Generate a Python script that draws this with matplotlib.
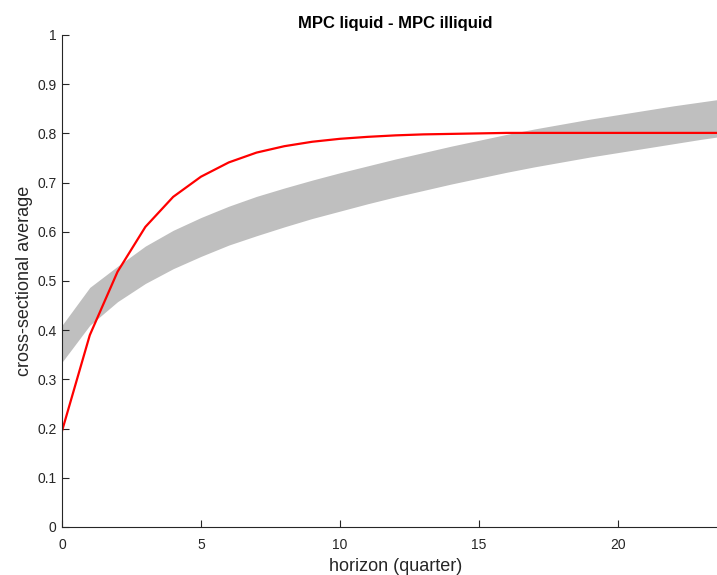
import numpy as np
import matplotlib
matplotlib.use('Agg')
import matplotlib.pyplot as plt

plt.rcParams['font.family'] = ['Liberation Sans', 'DejaVu Sans']

# horizon in quarters
horizon = [0, 1, 2, 3, 4, 5, 6, 7, 8, 9, 10, 11, 12, 13, 14, 15, 16, 17, 18, 19, 20, 21, 22, 23, 24]

# red line: MPC liquid - MPC illiquid
mpc_diff = [0.195, 0.39, 0.519, 0.610, 0.671, 0.712, 0.741, 0.761, 0.774, 0.783, 0.789,
            0.793, 0.796, 0.798, 0.799, 0.800, 0.801, 0.801, 0.801, 0.801, 0.801, 0.801,
            0.801, 0.801, 0.801]

# grey band (upper / lower bound)
band_upper = [0.410, 0.487, 0.530, 0.571, 0.603, 0.629, 0.652, 0.672, 0.689, 0.705, 0.720,
              0.734, 0.748, 0.761, 0.774, 0.786, 0.798, 0.809, 0.819, 0.829, 0.838, 0.847,
              0.856, 0.864, 0.872]
band_lower = [0.335, 0.410, 0.458, 0.495, 0.525, 0.550, 0.573, 0.592, 0.610, 0.627, 0.642,
              0.657, 0.671, 0.684, 0.697, 0.709, 0.721, 0.732, 0.742, 0.752, 0.761, 0.770,
              0.779, 0.788, 0.796]

fig = plt.figure(figsize=(7.17, 5.75), dpi=100)
ax = fig.add_axes([62/717, 48/575, (729-62)/717, 492/575])

ax.fill_between(horizon, band_lower, band_upper, color=(0.75, 0.75, 0.75), linewidth=0)
ax.plot(horizon, mpc_diff, color='red', linewidth=1.6)

ax.set_xlim(0, 24)
ax.set_ylim(0, 1)
ax.set_xticks([0, 5, 10, 15, 20])
ax.set_yticks(np.arange(0, 1.01, 0.1))
ax.set_yticklabels(['0', '0.1', '0.2', '0.3', '0.4', '0.5', '0.6', '0.7', '0.8', '0.9', '1'])

for s in ['top', 'right']:
    ax.spines[s].set_visible(False)
for s in ['left', 'bottom']:
    ax.spines[s].set_color('#262626')
    ax.spines[s].set_linewidth(0.8)
ax.tick_params(direction='in', length=5, width=0.8, color='#262626',
               labelcolor='#262626', labelsize=10, pad=4)
ax.tick_params(axis='x', pad=8)

ax.set_title('MPC liquid - MPC illiquid', fontsize=12, fontweight='bold', pad=5)
ax.set_xlabel('horizon (quarter)', fontsize=13, color='#262626', labelpad=4)
ax.set_ylabel('cross-sectional average', fontsize=13, color='#262626', labelpad=3)

fig.savefig('out.png', dpi=100)
